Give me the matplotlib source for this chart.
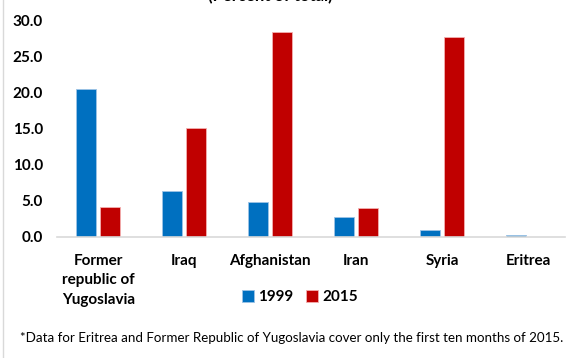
import numpy as np
import matplotlib.pyplot as plt

countries = ["Former\nrepublic of\nYugoslavia", "Iraq", "Afghanistan", "Iran", "Syria", "Eritrea"]
share_1999 = [20.4, 6.3, 4.9, 2.7, 0.9, 0.3]
share_2015 = [4.1, 15.1, 28.3, 4.0, 27.7, 0.0]
yticks = [0, 5, 10, 15, 20, 25, 30]

plt.rcParams['font.family'] = ['Lato', 'DejaVu Sans']

fig = plt.figure(figsize=(5.73, 3.58), dpi=100)
ax = fig.add_axes([57 / 573, 1 - 237 / 358, (565 - 57) / 573, (237 - 20) / 358])

x = np.arange(len(countries))
w = 0.23
off = 0.14
ax.bar(x - off, share_1999, w, color="#0070C0", edgecolor="#9DC3E6", linewidth=0.6, label="1999")
ax.bar(x + off, share_2015, w, color="#C00000", edgecolor="#F4B0B0", linewidth=0.6, label="2015")

ax.set_ylim(0, 30)
ax.set_xlim(-0.48, 5.43)
ax.set_yticks(yticks)
ax.set_yticklabels([f"{v:.1f}" for v in yticks], fontsize=11, fontweight="bold")
ax.set_xticks(x)
ax.set_xticklabels(countries, fontsize=11, fontweight="bold", linespacing=1.5)
ax.tick_params(axis="both", length=0)
ax.tick_params(axis="y", pad=10)
ax.tick_params(axis="x", pad=12)
for s in ["top", "right", "left"]:
    ax.spines[s].set_visible(False)
ax.spines["bottom"].set_color("#D9D9D9")
ax.spines["bottom"].set_linewidth(1.2)

fig.legend(loc="center", bbox_to_anchor=(300 / 573, 1 - 297 / 358), ncol=2, frameon=False,
           prop={"weight": "bold", "size": 11}, handlelength=0.8, handleheight=0.8,
           handletextpad=0.3, columnspacing=0.8)

fig.text(20 / 573, 1 - 338 / 358,
         "*Data for Eritrea and Former Republic of Yugoslavia cover only the first ten months of 2015.",
         fontsize=9.6, va="center", ha="left")

# title sits mostly above the visible area, as in the source crop
fig.text(270 / 573, 1 - 4 / 358, "(Percent of total)", fontsize=12, fontweight="bold",
         ha="center", va="bottom")

# thin gray border on the left like the source slide
fig.add_artist(plt.Line2D([3 / 573, 3 / 573], [0, 1], color="#D9D9D9", linewidth=1))

fig.savefig("out.png", dpi=100)
